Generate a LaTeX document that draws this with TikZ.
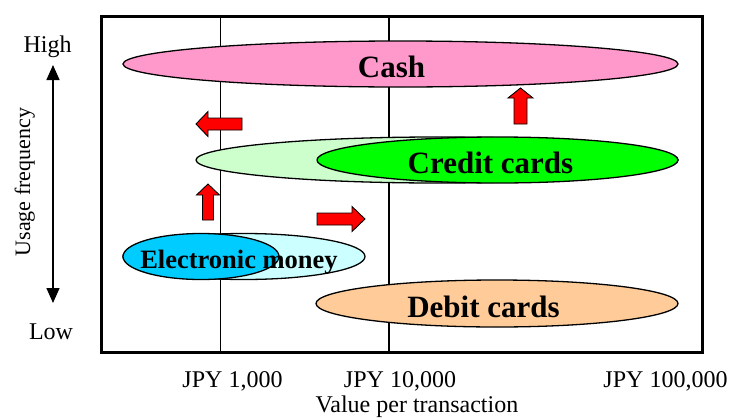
\documentclass[tikz,border=0pt]{standalone}
\usepackage{fontspec}
\setmainfont{Liberation Serif}
\usetikzlibrary{shapes.geometric,arrows.meta}
\definecolor{cashpink}{HTML}{FF99CC}
\definecolor{lgreen}{HTML}{CCFFCC}
\definecolor{vgreen}{HTML}{00FF00}
\definecolor{lcyan}{HTML}{CCFFFF}
\definecolor{dcyan}{HTML}{00CCFF}
\definecolor{peach}{HTML}{FFCC99}
\newcommand\blkup[6]{\draw[blk] (#1,#2) -- (#1+#5,#3) -- (#1+#6,#3) -- (#1+#6,#4) -- (#1-#6,#4) -- (#1-#6,#3) -- (#1-#5,#3) -- cycle;}
\newcommand\blkh[6]{\draw[blk] (#2,#1) -- (#3,#1-#5) -- (#3,#1-#6) -- (#4,#1-#6) -- (#4,#1+#6) -- (#3,#1+#6) -- (#3,#1+#5) -- cycle;}
\begin{document}
\begin{tikzpicture}[x=1pt,y=-1pt,
  oval/.style={ellipse, draw=black, line width=1.3pt, inner sep=0pt, minimum height=46pt},
  lbl/.style={anchor=base, font=\fontsize{31}{34}\selectfont\bfseries, inner sep=0pt},
  ax/.style={anchor=base, font=\fontsize{24}{26}\selectfont, inner sep=0pt},
  blk/.style={draw=black, fill=red, line width=0.9pt, line join=miter}]
\useasboundingbox (0,0) rectangle (731,418);
% grid lines
\coordinate (g1t) at (220.5,16); \coordinate (g1b) at (220.5,352);
\coordinate (g2t) at (389,16); \coordinate (g2b) at (389,352);
\draw[line width=1.2pt] (g1t) -- (g1b);
\draw[line width=1.2pt] (g2t) -- (g2b);
% ellipses
\node[oval, fill=cashpink, minimum width=555pt] (cashE) at (400.5,64) {};
\node[oval, fill=lgreen, minimum width=482pt] (ccL) at (437,160) {};
\node[oval, fill=vgreen, minimum width=361pt] (ccE) at (497.5,160) {};
\node[oval, fill=lcyan, minimum width=242pt] (emL) at (244,256.5) {};
\node[oval, fill=dcyan, minimum width=156pt] (emE) at (201,256.5) {};
\node[oval, fill=peach, minimum width=362pt, minimum height=47pt] (dbE) at (497,303.5) {};
% labels
\node[lbl] (cash) at (391.5,77) {Cash};
\node[lbl] (cc) at (490.5,173) {Credit cards};
\node[lbl] (db) at (483.5,317) {Debit cards};
\node[lbl, font=\fontsize{26.5}{28}\selectfont\bfseries] (em) at (239,268) {Electronic money};
% block arrows
\blkup{520.5}{88}{98}{124}{12.5}{6.5}
\blkup{208}{184}{195}{220}{11.5}{5.5}
\blkh{124}{196}{208}{242}{12.5}{6}
\blkh{219}{365}{352}{317}{12.5}{6}
% frame
\coordinate (f1) at (101.5,16.5); \coordinate (f2) at (702.5,352);
\draw[line width=3pt] (f1) rectangle (f2);
% axis
\node[ax] (high) at (47.5,52) {High};
\node[ax] (low) at (51,339) {Low};
\coordinate (at) at (53,65); \coordinate (ab) at (53,303);
\draw[line width=1.5pt, {Triangle[width=13pt,length=15pt]}-{Triangle[width=13pt,length=15pt]}] (at) -- (ab);
\node[ax, rotate=90, font=\fontsize{22}{24}\selectfont] (uf) at (30,182) {Usage frequency};
\node[ax] (j1) at (232.5,387) {JPY 1,000};
\node[ax] (j2) at (400,387) {JPY 10,000};
\node[ax] (j3) at (665.5,387) {JPY 100,000};
\node[ax] (vpt) at (417,412) {Value per transaction};
\end{tikzpicture}
\end{document}
